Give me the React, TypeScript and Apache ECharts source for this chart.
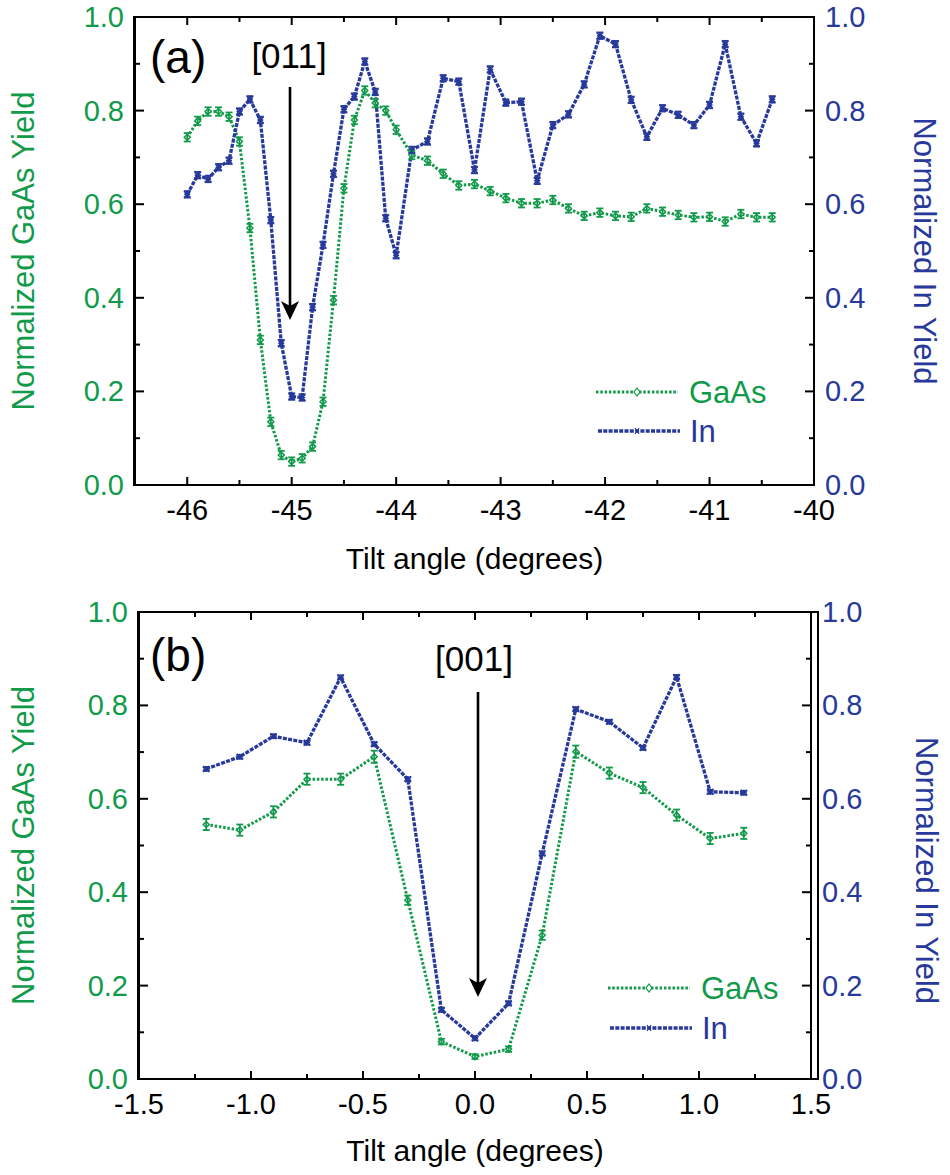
import React, { useEffect, useRef } from 'react';
import * as echarts from 'echarts';

const GREEN = '#129a4b';
const BLUE = '#27399a';
const FONT = '"Liberation Sans", Arial, Helvetica, sans-serif';

// Panel (a): tilt angles around [011]
const xA = [
  -46.0, -45.9, -45.8, -45.7, -45.6, -45.5, -45.4, -45.3, -45.2, -45.1, -45.0,
  -44.9, -44.8, -44.7, -44.6, -44.5, -44.4, -44.3, -44.2, -44.1, -44.0,
  -43.85, -43.7, -43.55, -43.4, -43.25, -43.1, -42.95, -42.8, -42.65, -42.5,
  -42.35, -42.2, -42.05, -41.9, -41.75, -41.6, -41.45, -41.3, -41.15, -41.0,
  -40.85, -40.7, -40.55, -40.4,
];
const gaasA = [
  0.743, 0.778, 0.798, 0.798, 0.787, 0.734, 0.549, 0.310, 0.135, 0.064, 0.050,
  0.057, 0.082, 0.178, 0.395, 0.634, 0.780, 0.843, 0.816, 0.800, 0.759,
  0.705, 0.693, 0.665, 0.640, 0.643, 0.628, 0.613, 0.602, 0.602, 0.609,
  0.591, 0.575, 0.582, 0.575, 0.573, 0.591, 0.584, 0.577, 0.572, 0.573,
  0.563, 0.579, 0.572, 0.572,
];
const inA = [
  0.621, 0.662, 0.654, 0.679, 0.693, 0.798, 0.824, 0.780, 0.566, 0.303, 0.189,
  0.187, 0.380, 0.513, 0.665, 0.803, 0.830, 0.905, 0.840, 0.570, 0.491,
  0.716, 0.734, 0.869, 0.862, 0.673, 0.888, 0.817, 0.819, 0.650, 0.769,
  0.792, 0.856, 0.960, 0.942, 0.823, 0.744, 0.805, 0.791, 0.769, 0.812,
  0.942, 0.787, 0.730, 0.824,
];
const ERR_GAAS_A = 0.009;
const ERR_IN_A = 0.007;

// Panel (b): tilt angles around [001]
const xB = [-1.2, -1.05, -0.9, -0.75, -0.6, -0.45, -0.3, -0.15, 0, 0.15, 0.3, 0.45, 0.6, 0.75, 0.9, 1.05, 1.2];
const gaasB = [0.545, 0.533, 0.572, 0.642, 0.642, 0.690, 0.383, 0.080, 0.048, 0.064, 0.308, 0.701, 0.655, 0.624, 0.565, 0.515, 0.526];
const gaasErrB = [0.012, 0.012, 0.012, 0.012, 0.012, 0.013, 0.010, 0.006, 0.005, 0.006, 0.010, 0.013, 0.012, 0.012, 0.012, 0.012, 0.012];
const inB = [0.664, 0.690, 0.734, 0.720, 0.860, 0.717, 0.642, 0.148, 0.087, 0.162, 0.483, 0.792, 0.765, 0.709, 0.861, 0.615, 0.613];
const ERR_IN_B = 0.004;

// Tick positions
const xMajorA = [-46, -45, -44, -43, -42, -41, -40];
const xMinorA = [-45.5, -44.5, -43.5, -42.5, -41.5, -40.5];
const xMajorB = [-1.5, -1.0, -0.5, 0, 0.5, 1.0, 1.5];
const xMinorB = [-1.25, -0.75, -0.25, 0.25, 0.75, 1.25];
const yMajor = [0, 0.2, 0.4, 0.6, 0.8, 1.0];
const yMinor = [0.1, 0.3, 0.5, 0.7, 0.9];

const X_TITLE = 'Tilt angle (degrees)';
const Y_LEFT_TITLE = 'Normalized GaAs Yield';
const Y_RIGHT_TITLE = 'Normalized In Yield';

const GRID_A = { left: 134, top: 17, width: 680, height: 468 };
const GRID_B = { left: 138, top: 612, width: 680, height: 467 };

function errorBars(name: string, data: number[][], color: string, xi: number, yi: number) {
  return {
    name,
    type: 'custom',
    xAxisIndex: xi,
    yAxisIndex: yi,
    z: 4,
    silent: true,
    encode: { x: 0, y: 1 },
    data,
    renderItem: (_p: any, api: any) => {
      const x = api.value(0);
      const y = api.value(1);
      const e = api.value(2);
      const hi = api.coord([x, y + e]);
      const lo = api.coord([x, y - e]);
      const hw = 3.5;
      const st = { stroke: color, lineWidth: 1.8, fill: 'none' };
      return {
        type: 'group',
        children: [
          { type: 'line', shape: { x1: hi[0], y1: hi[1], x2: lo[0], y2: lo[1] }, style: st },
          { type: 'line', shape: { x1: hi[0] - hw, y1: hi[1], x2: hi[0] + hw, y2: hi[1] }, style: st },
          { type: 'line', shape: { x1: lo[0] - hw, y1: lo[1], x2: lo[0] + hw, y2: lo[1] }, style: st },
        ],
      };
    },
  };
}

// Frame and inward ticks drawn as a custom series through the axes' scales.
function frameSeries(xi: number, yi: number, x0: number, xMaj: number[], xMnr: number[]) {
  const data = [
    [x0, 0, 4],
    ...xMaj.map((v) => [v, 0, 0]),
    ...xMnr.map((v) => [v, 0, 1]),
    ...yMajor.map((v) => [x0, v, 2]),
    ...yMinor.map((v) => [x0, v, 3]),
  ];
  return {
    name: 'frame',
    type: 'custom',
    xAxisIndex: xi,
    yAxisIndex: yi,
    z: 6,
    silent: true,
    clip: false,
    encode: { x: 0, y: 1 },
    data,
    renderItem: (params: any, api: any) => {
      const cs = params.coordSys;
      const k = api.value(2);
      const bottom = cs.y + cs.height;
      const right = cs.x + cs.width;
      const fill = { fill: '#000' };
      if (k === 4) {
        return {
          type: 'group',
          children: [
            { type: 'rect', shape: { x: cs.x - 1, y: cs.y - 1, width: cs.width + 2, height: 2 }, style: fill },
            { type: 'rect', shape: { x: cs.x - 1, y: bottom - 1, width: cs.width + 2, height: 2 }, style: fill },
            { type: 'rect', shape: { x: cs.x - 1, y: cs.y - 1, width: 2, height: cs.height + 2 }, style: fill },
            { type: 'rect', shape: { x: right - 1, y: cs.y - 1, width: 2, height: cs.height + 2 }, style: fill },
          ],
        };
      }
      if (k === 0 || k === 1) {
        const px = api.coord([api.value(0), 0])[0];
        const L = k === 0 ? 8 : 5;
        return {
          type: 'group',
          children: [
            { type: 'rect', shape: { x: px - 1, y: bottom - L, width: 2, height: L }, style: fill },
            { type: 'rect', shape: { x: px - 1, y: cs.y, width: 2, height: L }, style: fill },
          ],
        };
      }
      const py = api.coord([api.value(0), api.value(1)])[1];
      const L = k === 2 ? 9 : 5;
      return {
        type: 'group',
        children: [
          { type: 'rect', shape: { x: cs.x, y: py - 1, width: L, height: 2 }, style: fill },
          { type: 'rect', shape: { x: right - L, y: py - 1, width: L, height: 2 }, style: fill },
        ],
      };
    },
  };
}

const STAR = 'path://M0 0L10 10M10 0L0 10M5 0L5 10M0 5L10 5';

function gaasLine(xs: number[], ys: number[], xi: number, yi: number) {
  return {
    name: 'GaAs',
    type: 'line',
    xAxisIndex: xi,
    yAxisIndex: yi,
    data: xs.map((x, i) => [x, ys[i]]),
    symbol: 'diamond',
    symbolSize: 6,
    showSymbol: true,
    z: 3,
    lineStyle: { color: GREEN, width: 3, type: [2.5, 1.8] },
    itemStyle: { color: '#fff', borderColor: GREEN, borderWidth: 1.5 },
  };
}

function inLine(xs: number[], ys: number[], xi: number, yi: number) {
  return {
    name: 'In',
    type: 'line',
    xAxisIndex: xi,
    yAxisIndex: yi,
    data: xs.map((x, i) => [x, ys[i]]),
    symbol: STAR,
    symbolSize: 6,
    showSymbol: true,
    z: 3,
    lineStyle: { color: BLUE, width: 3.3, type: [4, 1.3] },
    itemStyle: { color: BLUE, borderColor: BLUE, borderWidth: 1.5 },
  };
}

function yAxis(grid: number, pos: 'left' | 'right', color: string, name: string, gap: number, pad?: number[]) {
  return {
    type: 'value',
    gridIndex: grid,
    position: pos,
    min: 0,
    max: 1,
    interval: 0.2,
    name,
    nameLocation: 'middle',
    nameGap: gap,
    nameRotate: pos === 'left' ? 90 : -90,
    nameTextStyle: { color, fontSize: 31, fontFamily: FONT, padding: pad || 0 },
    axisLine: { show: false, onZero: false },
    axisTick: { show: false },
    minorTick: { show: false },
    axisLabel: {
      color,
      fontSize: 29,
      fontFamily: FONT,
      margin: 11,
      formatter: (v: number) => v.toFixed(1),
    },
    splitLine: { show: false },
  };
}

function legendGraphic(x0: number, yG: number, yI: number) {
  const x1 = x0 + 82;
  const mx = (x0 + x1) / 2;
  return [
    { type: 'line', shape: { x1: x0, y1: yG, x2: x1, y2: yG }, style: { stroke: GREEN, lineWidth: 3, lineDash: [2.5, 1.8] } },
    { type: 'polygon', shape: { points: [[mx, yG - 4], [mx + 3, yG], [mx, yG + 4], [mx - 3, yG]] }, style: { fill: '#fff', stroke: GREEN, lineWidth: 1.2 } },
    { type: 'text', x: x1 + 11, y: yG, style: { text: 'GaAs', fill: GREEN, font: `31px ${FONT}`, verticalAlign: 'middle', align: 'left' } },
    { type: 'line', shape: { x1: x0 + 2, y1: yI, x2: x1 + 2, y2: yI }, style: { stroke: BLUE, lineWidth: 3.3, lineDash: [4, 1.3] } },
    { type: 'line', shape: { x1: mx - 2, y1: yI - 3, x2: mx + 2, y2: yI + 3 }, style: { stroke: BLUE, lineWidth: 1.2 } },
    { type: 'line', shape: { x1: mx - 2, y1: yI + 3, x2: mx + 2, y2: yI - 3 }, style: { stroke: BLUE, lineWidth: 1.2 } },
    { type: 'text', x: x1 + 12, y: yI, style: { text: 'In', fill: BLUE, font: `31px ${FONT}`, verticalAlign: 'middle', align: 'left' } },
  ];
}

function arrow(x: number, yTop: number, yTip: number) {
  return [
    { type: 'rect', shape: { x: x - 1.3, y: yTop, width: 2.6, height: yTip - 12 - yTop }, style: { fill: '#000' } },
    { type: 'polygon', shape: { points: [[x, yTip], [x - 9, yTip - 19], [x, yTip - 14], [x + 9, yTip - 19]] }, style: { fill: '#000' } },
  ];
}

// Plain box outline at the grid rectangle (layout constants, not data).
function boxGraphic(g: { left: number; top: number; width: number; height: number }) {
  const f = { fill: '#000' };
  return [
    { type: 'rect', z: 100, silent: true, shape: { x: g.left - 1, y: g.top - 1, width: g.width + 2, height: 2 }, style: f },
    { type: 'rect', z: 100, silent: true, shape: { x: g.left - 1, y: g.top + g.height - 1, width: g.width + 2, height: 2 }, style: f },
    { type: 'rect', z: 100, silent: true, shape: { x: g.left - 1, y: g.top - 1, width: 2, height: g.height + 2 }, style: f },
    { type: 'rect', z: 100, silent: true, shape: { x: g.left + g.width - 1, y: g.top - 1, width: 2, height: g.height + 2 }, style: f },
  ];
}

export default function App() {
  const ref = useRef<HTMLDivElement>(null);

  useEffect(() => {
    if (!ref.current) return;
    const chart = echarts.init(ref.current, undefined, { renderer: 'svg' });

    const intLabel = (v: number) => (Math.abs(v - Math.round(v)) < 1e-6 ? String(Math.round(v)) : '');
    const xName = {
      name: X_TITLE,
      nameLocation: 'middle',
      nameTextStyle: { color: '#000', fontSize: 30, fontFamily: FONT },
    };

    const option: any = {
      animation: false,
      backgroundColor: '#fff',
      textStyle: { fontFamily: FONT },
      grid: [GRID_A, GRID_B],
      xAxis: [
        {
          type: 'value', gridIndex: 0, position: 'bottom', min: -46.5, max: -40, interval: 0.5,
          ...xName, nameGap: 58,
          axisLine: { show: false, onZero: false },
          axisTick: { show: false },
          axisLabel: { color: '#000', fontSize: 29, fontFamily: FONT, margin: 10, formatter: intLabel },
          splitLine: { show: false },
        },
        {
          type: 'value', gridIndex: 1, position: 'bottom', min: -1.5, max: 1.5, interval: 0.5,
          ...xName, nameGap: 56,
          axisLine: { show: false, onZero: false },
          axisTick: { show: false },
          axisLabel: { color: '#000', fontSize: 29, fontFamily: FONT, margin: 10, formatter: (v: number) => v.toFixed(1) },
          splitLine: { show: false },
        },
      ],
      yAxis: [
        yAxis(0, 'left', GREEN, Y_LEFT_TITLE, 96),
        yAxis(0, 'right', BLUE, Y_RIGHT_TITLE, 95),
        yAxis(1, 'left', GREEN, Y_LEFT_TITLE, 100),
        yAxis(1, 'right', BLUE, Y_RIGHT_TITLE, 100, [0, 0, 0, 50]),
      ],
      series: [
        gaasLine(xA, gaasA, 0, 0),
        errorBars('GaAs error', xA.map((x, i) => [x, gaasA[i], ERR_GAAS_A]), GREEN, 0, 0),
        inLine(xA, inA, 0, 1),
        errorBars('In error', xA.map((x, i) => [x, inA[i], ERR_IN_A]), BLUE, 0, 1),
        frameSeries(0, 0, -46.5, xMajorA, xMinorA),
        gaasLine(xB, gaasB, 1, 2),
        errorBars('GaAs error', xB.map((x, i) => [x, gaasB[i], gaasErrB[i]]), GREEN, 1, 2),
        inLine(xB, inB, 1, 3),
        errorBars('In error', xB.map((x, i) => [x, inB[i], ERR_IN_B]), BLUE, 1, 3),
        frameSeries(1, 2, -1.5, xMajorB, xMinorB),
      ],
      graphic: [
        { type: 'text', x: 150, y: 57, style: { text: '(a)', fill: '#000', font: `46px ${FONT}`, verticalAlign: 'middle', align: 'left' } },
        { type: 'text', x: 289, y: 55, style: { text: '[011]', fill: '#000', font: `35px ${FONT}`, verticalAlign: 'middle', align: 'center' } },
        ...arrow(290, 87, 320),
        { type: 'text', x: 150, y: 655, style: { text: '(b)', fill: '#000', font: `46px ${FONT}`, verticalAlign: 'middle', align: 'left' } },
        { type: 'text', x: 474, y: 658, style: { text: '[001]', fill: '#000', font: `35px ${FONT}`, verticalAlign: 'middle', align: 'center' } },
        ...arrow(478, 692, 997),
        ...legendGraphic(596, 392, 431),
        ...legendGraphic(608, 988, 1028),
        ...boxGraphic(GRID_A),
        ...boxGraphic(GRID_B),
      ],
    };

    chart.setOption(option);
    return () => chart.dispose();
  }, []);

  return (
    <div
      ref={ref}
      style={{ position: 'absolute', left: 0, top: 0, width: 950, height: 1175, background: '#fff' }}
    />
  );
}
